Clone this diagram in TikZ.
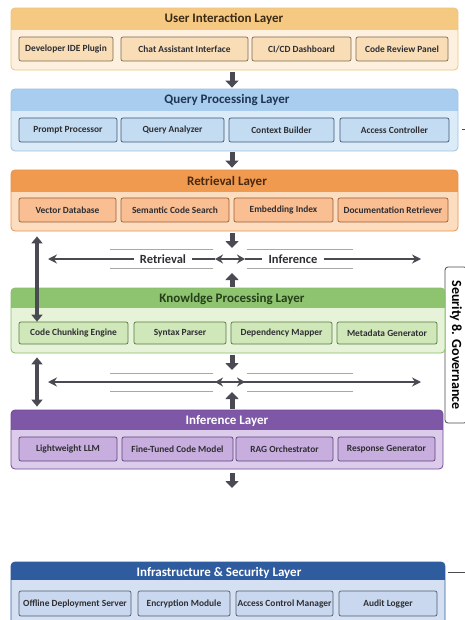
\documentclass[tikz,border=0pt]{standalone}
\usepackage{fontspec}
\setmainfont{Carlito}
\usetikzlibrary{arrows.meta}

\definecolor{arrowgray}{HTML}{4A4B52}
\definecolor{guidegray}{HTML}{A8A8A8}
\definecolor{boxtext}{HTML}{2E2E33}
% user layer
\definecolor{userhead}{HTML}{F6C983}
\definecolor{userbody}{HTML}{FDF0DE}
\definecolor{userbox}{HTML}{F8DDB7}
\definecolor{userline}{HTML}{ECC482}
\definecolor{userboxline}{HTML}{7D6A52}
\definecolor{usertext}{HTML}{3A2A14}
% query layer
\definecolor{queryhead}{HTML}{A9CDEE}
\definecolor{querybody}{HTML}{DCEBF8}
\definecolor{querybox}{HTML}{C3DCF2}
\definecolor{queryline}{HTML}{9DC2E4}
\definecolor{queryboxline}{HTML}{3E5878}
\definecolor{querytext}{HTML}{1E3553}
% retrieval layer
\definecolor{retrhead}{HTML}{F09A4F}
\definecolor{retrbody}{HTML}{FDDDC0}
\definecolor{retrbox}{HTML}{F9BE92}
\definecolor{retrline}{HTML}{EA924C}
\definecolor{retrboxline}{HTML}{9A5E35}
\definecolor{retrtext}{HTML}{4A2810}
% knowledge layer
\definecolor{knowhead}{HTML}{8EC470}
\definecolor{knowbody}{HTML}{E6F3D8}
\definecolor{knowbox}{HTML}{D0E8B9}
\definecolor{knowline}{HTML}{88BE69}
\definecolor{knowboxline}{HTML}{557A3F}
\definecolor{knowtext}{HTML}{24401A}
% inference layer
\definecolor{infhead}{HTML}{7F57A7}
\definecolor{infbody}{HTML}{DCCBEA}
\definecolor{infbox}{HTML}{C8AEDE}
\definecolor{infline}{HTML}{6E4A97}
\definecolor{infboxline}{HTML}{5B4478}
% infrastructure layer
\definecolor{infrahead}{HTML}{2F5C9F}
\definecolor{infrabody}{HTML}{D5E1F2}
\definecolor{infrabox}{HTML}{C9D8EE}
\definecolor{infraline}{HTML}{2F5C9F}
\definecolor{infraboxline}{HTML}{4E5B70}

\tikzset{
  layer/.style={draw=#1, rounded corners=4pt, line width=0.8pt, inner sep=0pt},
  headband/.style 2 args={path picture={\fill[#1, sharp corners] (path picture bounding box.north west) rectangle ([yshift=-#2]path picture bounding box.north east);}},
  title/.style={font=\bfseries\fontsize{13}{15}\selectfont, inner sep=0pt},
  box/.style={draw=#1, line width=0.7pt, rounded corners=2pt, inner sep=0pt, text=boxtext, font=\bfseries\fontsize{9.4}{11}\selectfont},
  bigdown/.style={draw=arrowgray, line width=5pt, -{Triangle[width=13pt,length=7pt]}},
  updown/.style={draw=arrowgray, line width=4pt, {Triangle[width=11pt,length=7pt]}-{Triangle[width=11pt,length=7pt]}},
  hflow/.style={draw=arrowgray, line width=2pt},
  guide/.style={draw=guidegray, line width=0.6pt},
  flowlabel/.style={font=\bfseries\fontsize{12.5}{14}\selectfont, text=boxtext, inner sep=0pt},
  govbox/.style={draw=arrowgray, fill=white, line width=0.8pt, rounded corners=3pt, inner sep=0pt, font=\bfseries\fontsize{14}{16}\selectfont}
}

\begin{document}
\begin{tikzpicture}[x=1pt, y=-1pt]
  \clip (0,0) rectangle (465,620);
  \fill[white] (0,0) rectangle (465,620);
  \coordinate (ax) at (232,0);
  \coordinate (lx) at (37,0);

  % Security side panel
  \node[govbox, rotate=-90, minimum width=156pt, minimum height=22pt] (gov) at (456,345) {Seurity 8. Governance};

  % User Interaction Layer
  \node[layer=userline, fill=userbody, headband={userhead}{22pt}, minimum width=447pt, minimum height=62pt] (user) at (234.5,39) {};
  \node[title, text=usertext] (userT) at (224,19) {User Interaction Layer};
  \foreach \xa/\xb/\txt [count=\i] in {19/113/Developer IDE Plugin, 121/248/Chat Assistant Interface, 252/351/{CI/CD Dashboard}, 356/448/Code Review Panel}
    \node[box=userboxline, fill=userbox, minimum width={(\xb-\xa)*1pt}, minimum height=24pt] (u\i) at ({(\xa+\xb)/2},49) {\txt};

  % Query Processing Layer
  \node[layer=queryline, fill=querybody, headband={queryhead}{22pt}, minimum width=447pt, minimum height=62pt] (query) at (234.5,120) {};
  \node[title, text=querytext] (queryT) at (227,100) {Query Processing Layer};
  \foreach \xa/\xb/\txt [count=\i] in {19/117/Prompt Processor, 121/224/Query Analyzer, 229/334/Context Builder, 340/449/Access Controller}
    \node[box=queryboxline, fill=querybox, minimum width={(\xb-\xa)*1pt}, minimum height=24pt] (q\i) at ({(\xa+\xb)/2},130) {\txt};

  % Retrieval Layer
  \node[layer=retrline, fill=retrbody, headband={retrhead}{22pt}, minimum width=447pt, minimum height=61pt] (retr) at (234.5,200.5) {};
  \node[title, text=retrtext] (retrT) at (227,182) {Retrieval Layer};
  \foreach \xa/\xb/\txt [count=\i] in {19/116/Vector Database, 121/229/Semantic Code Search, 234/333/Embedding Index, 338/448/Documentation Retriever}
    \node[box=retrboxline, fill=retrbox, minimum width={(\xb-\xa)*1pt}, minimum height=24pt] (r\i) at ({(\xa+\xb)/2},210) {\txt};

  % Knowledge Processing Layer
  \node[layer=knowline, fill=knowbody, headband={knowhead}{20pt}, minimum width=434pt, minimum height=65pt] (know) at (228,320.5) {};
  \node[title, text=knowtext] (knowT) at (232,299) {Knowldge Processing Layer};
  \foreach \xa/\xb/\txt [count=\i] in {19/128/Code Chunking Engine, 134/226/Syntax Parser, 231/332/Dependency Mapper, 337/437/Metadata Generator}
    \node[box=knowboxline, fill=knowbox, minimum width={(\xb-\xa)*1pt}, minimum height=22pt] (k\i) at ({(\xa+\xb)/2},333) {\txt};

  % Inference Layer
  \node[layer=infline, fill=infbody, headband={infhead}{20pt}, minimum width=432pt, minimum height=59pt] (inf) at (227,439.5) {};
  \node[title, text=white] (infT) at (227,421) {Inference Layer};
  \foreach \xa/\xb/\txt [count=\i] in {19/117/Lightweight LLM, 122/233/Fine-Tuned Code Model, 236/333/RAG Orchestrator, 338/435/Response Generator}
    \node[box=infboxline, fill=infbox, minimum width={(\xb-\xa)*1pt}, minimum height=24pt] (i\i) at ({(\xa+\xb)/2},449) {\txt};

  % Infrastructure & Security Layer
  \node[layer=infraline, fill=infrabody, headband={infrahead}{18pt}, minimum width=434pt, minimum height=62pt] (infra) at (228,593) {};
  \node[title, text=white] (infraT) at (219,573) {Infrastructure \& Security Layer};
  \foreach \xa/\xb/\txt [count=\i] in {19/131/Offline Deployment Server, 138/230/Encryption Module, 236/333/Access Control Manager, 339/437/Audit Logger}
    \node[box=infraboxline, fill=infrabox, minimum width={(\xb-\xa)*1pt}, minimum height=25pt] (s\i) at ({(\xa+\xb)/2},603.5) {\txt};

  % stubs towards the side panel
  \coordinate (qstub) at (462,129);
  \coordinate (qstubend) at (466,129);
  \coordinate (sstub) at (448,572);
  \coordinate (sstubend) at (466,572);
  \draw[arrowgray, line width=0.8pt] (qstub) -- (qstubend);
  \draw[arrowgray, line width=0.8pt] (sstub) -- (sstubend);

  % down arrows between the top layers
  \draw[bigdown, shorten <=2pt, shorten >=1pt] (user.south -| ax) -- (query.north -| ax);
  \draw[bigdown, shorten <=1pt, shorten >=2pt] (query.south -| ax) -- (retr.north -| ax);

  % Retrieval / Inference band
  \coordinate (b1top) at (232,248);
  \coordinate (b1bot) at (232,273);
  \coordinate (b1l) at (48,259);
  \coordinate (b1r) at (421,259);
  \coordinate (b1cl) at (215,259);
  \coordinate (b1cr) at (245,259);
  \draw[bigdown, shorten <=2pt] (retr.south -| ax) -- (b1top);
  \draw[bigdown, shorten <=1pt] (know.north -| ax) -- (b1bot);
  \draw[guide] (110,249) -- (213,249) (110,268) -- (213,268);
  \draw[guide] (247,249) -- (353,249) (247,268) -- (353,268);
  \node[flowlabel] (lblRetr) at (163,259) {Retrieval};
  \node[flowlabel] (lblInf) at (293,259) {Inference};
  \draw[hflow, -{Stealth[length=9pt,width=9pt]}] ([xshift=-6pt]lblRetr.west) -- (b1l);
  \draw[hflow] ([xshift=6pt]lblRetr.east) -- (b1cl);
  \draw[hflow, {Stealth[length=8pt,width=9pt]}-{Stealth[length=8pt,width=9pt]}] (b1cl) -- (b1cr);
  \draw[hflow] (b1cr) -- ([xshift=-6pt]lblInf.west);
  \draw[hflow, -{Stealth[length=9pt,width=9pt]}] ([xshift=6pt]lblInf.east) -- (b1r);
  \draw[updown, shorten <=5pt] (retr.south -| lx) -- (k1.north -| lx);

  % second band
  \coordinate (b2top) at (232,370);
  \coordinate (b2bot) at (232,392);
  \coordinate (b2l) at (48,382);
  \coordinate (b2r) at (421,382);
  \coordinate (b2cl) at (215,382);
  \coordinate (b2cr) at (245,382);
  \draw[bigdown, shorten <=2pt] (know.south -| ax) -- (b2top);
  \draw[bigdown, shorten <=1pt] (inf.north -| ax) -- (b2bot);
  \draw[guide] (110,373) -- (213,373) (110,391) -- (213,391);
  \draw[guide] (247,373) -- (353,373) (247,391) -- (353,391);
  \draw[hflow, {Stealth[length=9pt,width=9pt]}-{Stealth[length=9pt,width=9pt]}] (b2l) -- (b2r);
  \draw[hflow, {Stealth[length=8pt,width=9pt]}-{Stealth[length=8pt,width=9pt]}] (b2cl) -- (b2cr);
  \draw[updown, shorten <=4pt, shorten >=3pt] (know.south -| lx) -- (inf.north -| lx);

  % down arrow below inference
  \coordinate (b3) at (232,488);
  \draw[bigdown, shorten <=4pt] (inf.south -| ax) -- (b3);
\end{tikzpicture}
\end{document}
